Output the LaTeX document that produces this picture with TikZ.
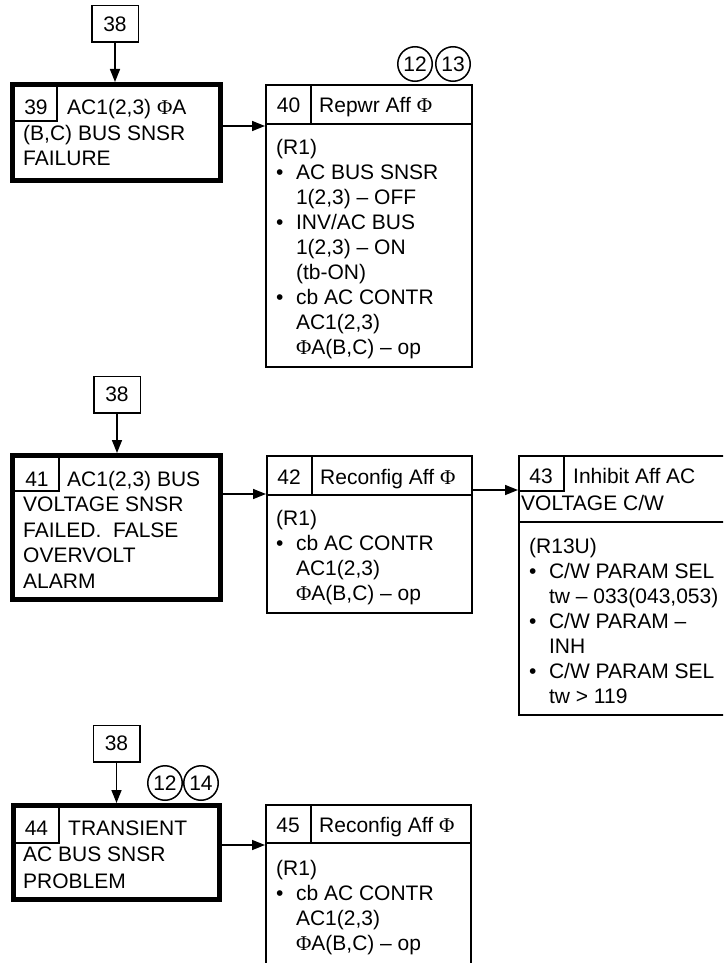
\documentclass[tikz,border=0pt]{standalone}
\usepackage{fontspec}
\setmainfont{Liberation Sans}
\newfontfamily\phifont{Liberation Serif}
\usepackage{tikz}
\usetikzlibrary{arrows.meta}

\newcommand\Ph{{\phifont Φ}}
\newcommand\steplist[1]{\begin{tabular}[t]{@{}l@{\hspace{12.5pt}}l@{}}#1\end{tabular}}
\newcommand\titlelines[1]{\begin{tabular}[t]{@{}l@{}}#1\end{tabular}}

\tikzset{
  every node/.style={inner sep=0pt, font=\fontsize{21pt}{25pt}\selectfont},
  srcbox/.style={draw, line width=1.5pt, minimum width=46.5pt, minimum height=36.5pt},
  failbox/.style={draw, line width=5pt, anchor=north west},
  actbox/.style={draw, line width=2pt, anchor=north west},
  flag/.style={draw, circle, line width=1.5pt, minimum size=34.5pt},
  num/.style={anchor=base},
  txt/.style={anchor=base west},
  ttl/.style={anchor=base west, font=\fontsize{21pt}{25.5pt}\selectfont},
  rule/.style={line width=1.5pt},
  flow/.style={line width=1.5pt, -{Triangle[length=13pt,width=10pt]}},
}

\begin{document}
\begin{tikzpicture}[x=1pt, y=-1pt]
\useasboundingbox (0,0) rectangle (723,963);
\clip (0,0) rectangle (723,963);

% first row
\node[srcbox] (src1) at (115,24) {38};
\node[failbox, minimum width=208pt, minimum height=96pt] (b39) at (10,82) {};
\draw[rule] (12.5,121) -| (57,84.5);
\node[num] (n39) at (36,115) {39};
\node[ttl] (t39) at (23,115) {\titlelines{\hspace*{44pt}AC1(2,3) \Ph A\\ (B,C) BUS SNSR\\ FAILURE}};

\node[actbox, minimum width=206pt, minimum height=282pt] (b40) at (265,84) {};
\draw[rule] (266,124) -- (472,124) (311,85) -- (311,124);
\node[num] (n40) at (288.5,113) {40};
\node[txt] (h40) at (319,113) {Repwr Aff \Ph};
\node[txt] (t40) at (276,154) {\steplist{\multicolumn{2}{@{}l@{}}{(R1)}\\
  • & AC BUS SNSR\\ & 1(2,3) – OFF\\
  • & INV/AC BUS\\ & 1(2,3) – ON\\ & (tb-ON)\\
  • & cb AC CONTR\\ & AC1(2,3)\\ & \Ph A(B,C) – op}};
\node[flag] (c12a) at (415,64) {12};
\node[flag] (c13) at (453,64) {13};

\draw[flow] (src1) -- (src1 |- b39.north);
\draw[flow] (b39.east |- 0,126) -- (b40.west |- 0,126);

% second row
\node[srcbox] (src2) at (117,394.5) {38};
\node[failbox, minimum width=208pt, minimum height=144pt] (b41) at (10,453) {};
\draw[rule] (12.5,491) -| (59,455.5);
\node[num] (n41) at (37,486) {41};
\node[ttl] (t41) at (23,486) {\titlelines{\hspace*{44pt}AC1(2,3) BUS\\ VOLTAGE SNSR\\
  FAILED.\ \ FALSE\\ OVERVOLT\\ ALARM}};

\node[actbox, minimum width=205pt, minimum height=157pt] (b42) at (266,455) {};
\draw[rule] (267,495) -- (472,495) (312,456) -- (312,495);
\node[num] (n42) at (289,484) {42};
\node[txt] (h42) at (320,484) {Reconfig Aff \Ph};
\node[txt] (t42) at (276,525.5) {\steplist{\multicolumn{2}{@{}l@{}}{(R1)}\\
  • & cb AC CONTR\\ & AC1(2,3)\\ & \Ph A(B,C) – op}};

\node[actbox, minimum width=212pt, minimum height=259pt] (b43) at (518,455) {};
\draw[rule] (519,491) -| (564,456);
\draw[rule] (519,522) -- (731,522);
\node[num] (n43) at (541,483) {43};
\node[txt] (t43a) at (521,483) {\titlelines{\hspace*{52pt}Inhibit Aff AC\\[2pt] VOLTAGE C/W}};
\node[txt] (t43) at (529,553) {\steplist{\multicolumn{2}{@{}l@{}}{(R13U)}\\
  • & C/W PARAM SEL\\ & tw – 033(043,053)\\
  • & C/W PARAM –\\ & INH\\
  • & C/W PARAM SEL\\ & tw > 119}};

\draw[flow] (src2) -- (src2 |- b41.north);
\draw[flow] (b41.east |- 0,494) -- (b42.west |- 0,494);
\draw[flow] (b42.east |- 0,490) -- (b43.west |- 0,490);

% third row
\node[srcbox] (src3) at (116.5,743.5) {38};
\node[failbox, minimum width=206pt, minimum height=94pt] (b44) at (11,803) {};
\draw[rule] (13.5,843) -| (59,805.5);
\node[num] (n44) at (36.5,835) {44};
\node[ttl, font=\fontsize{21pt}{26.5pt}\selectfont] (t44) at (23,835)
  {\titlelines{\hspace*{45pt}TRANSIENT\\ AC BUS SNSR\\ PROBLEM}};
\node[flag] (c12b) at (165,783) {12};
\node[flag] (c14) at (201,783) {14};

\node[actbox, minimum width=205pt, minimum height=170pt] (b45) at (265,804) {};
\draw[rule] (266,843) -- (471,843) (311,805) -- (311,843);
\node[num] (n45) at (288,832) {45};
\node[txt] (h45) at (319,832) {Reconfig Aff \Ph};
\node[txt] (t45) at (276,875) {\steplist{\multicolumn{2}{@{}l@{}}{(R1)}\\
  • & cb AC CONTR\\ & AC1(2,3)\\ & \Ph A(B,C) – op}};

\draw[flow] (src3) -- (src3 |- b44.north);
\draw[flow] (b44.east |- 0,845) -- (b45.west |- 0,845);
\end{tikzpicture}
\end{document}
